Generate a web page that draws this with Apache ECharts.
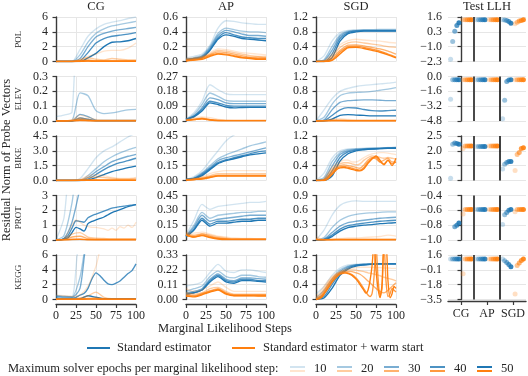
<!DOCTYPE html>
<html>
<head>
<meta charset="utf-8">
<script src="https://cdn.jsdelivr.net/npm/echarts@6/dist/echarts.min.js"></script>
<style>
  html, body { margin: 0; padding: 0; background: #fff; }
  #chart { width: 528px; height: 376px; }
</style>
</head>
<body>
<div id="chart"></div>
<script>
// ---------- data ----------
const datasets = ['POL', 'ELEV', 'BIKE', 'PROT', 'KEGG'];
const methods = ['CG', 'AP', 'SGD'];
const epochs = [10, 20, 30, 40, 50];
const xTicks = ['0', '25', '50', '75', '100'];

// each series runs over steps 0..100, points evenly spaced; rows = epochs 10..50
const polCgTicks = ['0', '2', '4', '6'];
const polCgBlue = [
  [0, 0, 0, 1.6, 3.4, 4.4, 5.0, 5.3, 5.5, 5.8, 6.0],
  [0, 0, 0, 0.9, 2.6, 3.8, 4.4, 4.8, 5.0, 5.2, 5.4],
  [0, 0, 0, 0.4, 2.0, 3.3, 3.8, 4.1, 4.3, 4.45, 4.6],
  [0, 0, 0, 0.1, 1.2, 2.5, 3.1, 3.4, 3.55, 3.7, 3.9],
  [0, 0, 0, 0, 0.5, 1.1, 2.0, 2.6, 2.65, 2.8, 3.1]
];
const polCgOrange = [
  [0, 0, 0, 0.3, 0.7, 1.0, 1.4, 1.5, 1.5, 1.8, 2.5],
  [0, 0, 0, 0.2, 0.5, 0.3, 0.2, 0.4, 0.3, 0.2, 0.2],
  [0, 0, 0, 0.1, 0.2, 0.1, 0.1, 0.1, 0.1, 0.1, 0.1],
  [0, 0, 0, 0.05, 0.1, 0.05, 0.05, 0.05, 0.05, 0.05, 0.05],
  [0, 0, 0, 0.02, 0.05, 0.03, 0.03, 0.03, 0.03, 0.03, 0.03]
];
const polApTicks = ['0.0', '0.2', '0.4', '0.6'];
const polApBlue = [
  [0.05, 0.07, 0.1, 0.22, 0.45, 0.55, 0.54, 0.52, 0.51, 0.5, 0.5],
  [0.03, 0.05, 0.08, 0.2, 0.38, 0.45, 0.43, 0.41, 0.4, 0.4, 0.39],
  [0.03, 0.04, 0.07, 0.18, 0.35, 0.42, 0.4, 0.37, 0.35, 0.35, 0.34],
  [0.02, 0.04, 0.06, 0.16, 0.32, 0.39, 0.36, 0.33, 0.32, 0.31, 0.31],
  [0.02, 0.03, 0.05, 0.15, 0.3, 0.36, 0.34, 0.31, 0.3, 0.29, 0.28]
];
const polApOrange = [
  [0.04, 0.05, 0.07, 0.12, 0.17, 0.16, 0.14, 0.12, 0.11, 0.1, 0.09],
  [0.03, 0.04, 0.06, 0.1, 0.15, 0.14, 0.12, 0.1, 0.08, 0.07, 0.07],
  [0.02, 0.03, 0.05, 0.09, 0.13, 0.12, 0.1, 0.08, 0.06, 0.06, 0.05],
  [0.01, 0.02, 0.04, 0.08, 0.11, 0.1, 0.08, 0.06, 0.05, 0.04, 0.04],
  [0.01, 0.02, 0.03, 0.07, 0.1, 0.09, 0.07, 0.05, 0.04, 0.03, 0.03]
];
const polSgdTicks = ['0.0', '0.4', '0.8', '1.2'];
const polSgdBlue = [
  [0, 0.15, 0.55, 0.78, 0.84, 0.85, 0.86, 0.86, 0.87, 0.87, 0.87],
  [0, 0.05, 0.4, 0.72, 0.82, 0.84, 0.85, 0.85, 0.85, 0.85, 0.85],
  [0, 0.02, 0.3, 0.68, 0.8, 0.83, 0.84, 0.84, 0.84, 0.84, 0.84],
  [0, 0, 0.2, 0.62, 0.78, 0.82, 0.83, 0.83, 0.83, 0.83, 0.83],
  [0, 0, 0.1, 0.55, 0.75, 0.8, 0.82, 0.82, 0.82, 0.82, 0.82]
];
const polSgdOrange = [
  [0, 0.02, 0.2, 0.45, 0.56, 0.6, 0.58, 0.56, 0.55, 0.52, 0.5],
  [0, 0.01, 0.15, 0.38, 0.5, 0.53, 0.5, 0.47, 0.44, 0.4, 0.38],
  [0, 0, 0.1, 0.3, 0.44, 0.45, 0.42, 0.38, 0.34, 0.28, 0.2],
  [0, 0, 0.05, 0.25, 0.4, 0.41, 0.38, 0.33, 0.28, 0.2, 0.12],
  [0, 0, 0.03, 0.2, 0.37, 0.38, 0.35, 0.3, 0.25, 0.18, 0.1]
];

const elevCgTicks = ['0.0', '0.1', '0.2', '0.3'];
const elevCgBlue = [
  [0.03, 0.04, 0.06, 1.0, 1.0, 1.0, 1.0, 1.0, 1.0, 1.0, 1.0],
  [0, 0, 0.005, 0.19, 0.17, 0.07, 0.05, 0.055, 0.065, 0.075, 0.078],
  [0, 0, 0, 0.045, 0.03, 0.006, 0.004, 0.004, 0.004, 0.004, 0.004],
  [0, 0, 0, 0.02, 0.012, 0.003, 0.003, 0.003, 0.003, 0.003, 0.003],
  [0, 0, 0, 0.008, 0.005, 0.002, 0.002, 0.002, 0.002, 0.002, 0.002]
];
const elevCgOrange = [
  [0, 0, 0.01, 0.04, 0.025, 0.01, 0.008, 0.008, 0.008, 0.008, 0.008],
  [0, 0, 0.005, 0.02, 0.01, 0.004, 0.004, 0.004, 0.004, 0.004, 0.004],
  [0, 0, 0.003, 0.01, 0.005, 0.002, 0.002, 0.002, 0.002, 0.002, 0.002],
  [0, 0, 0.002, 0.005, 0.003, 0.001, 0.001, 0.001, 0.001, 0.001, 0.001],
  [0, 0, 0.001, 0.003, 0.002, 0.001, 0.001, 0.001, 0.001, 0.001, 0.001]
];
const elevApTicks = ['0.00', '0.09', '0.18', '0.27'];
const elevApBlue = [
  [0.01, 0.05, 0.12, 0.22, 0.19, 0.165, 0.16, 0.16, 0.16, 0.16, 0.16],
  [0.01, 0.04, 0.1, 0.17, 0.15, 0.125, 0.12, 0.12, 0.12, 0.12, 0.12],
  [0.01, 0.03, 0.08, 0.14, 0.13, 0.11, 0.105, 0.105, 0.105, 0.105, 0.105],
  [0.01, 0.03, 0.07, 0.12, 0.11, 0.095, 0.09, 0.09, 0.09, 0.09, 0.09],
  [0.01, 0.025, 0.06, 0.11, 0.1, 0.085, 0.08, 0.082, 0.083, 0.083, 0.083]
];
const elevApOrange = [
  [0.01, 0.02, 0.025, 0.02, 0.01, 0.006, 0.005, 0.005, 0.005, 0.005, 0.005],
  [0.006, 0.012, 0.018, 0.01, 0.004, 0.003, 0.003, 0.003, 0.003, 0.003, 0.003],
  [0.005, 0.01, 0.015, 0.008, 0.003, 0.002, 0.002, 0.002, 0.002, 0.002, 0.002],
  [0.004, 0.009, 0.014, 0.007, 0.003, 0.002, 0.002, 0.002, 0.002, 0.002, 0.002],
  [0.004, 0.008, 0.013, 0.006, 0.002, 0.002, 0.002, 0.002, 0.002, 0.002, 0.002]
];
const elevSgdTicks = ['0.0', '0.4', '0.8', '1.2'];
const elevSgdBlue = [
  [0, 0.3, 0.6, 0.8, 0.88, 0.93, 0.96, 0.98, 1.0, 1.02, 1.05],
  [0, 0.1, 0.45, 0.68, 0.75, 0.77, 0.78, 0.8, 0.83, 0.86, 0.9],
  [0, 0.03, 0.3, 0.5, 0.55, 0.56, 0.57, 0.57, 0.56, 0.55, 0.55],
  [0, 0.01, 0.15, 0.3, 0.36, 0.35, 0.31, 0.28, 0.27, 0.28, 0.29],
  [0, 0, 0.05, 0.15, 0.17, 0.16, 0.15, 0.14, 0.14, 0.14, 0.14]
];
const elevSgdOrange = [
  [0, 0.01, 0.05, 0.06, 0.04, 0.03, 0.03, 0.03, 0.03, 0.03, 0.03],
  [0, 0.01, 0.03, 0.03, 0.02, 0.015, 0.015, 0.015, 0.015, 0.015, 0.015],
  [0, 0.005, 0.015, 0.015, 0.01, 0.01, 0.01, 0.01, 0.01, 0.01, 0.01],
  [0, 0.003, 0.01, 0.01, 0.008, 0.008, 0.008, 0.008, 0.008, 0.008, 0.008],
  [0, 0.002, 0.008, 0.008, 0.006, 0.006, 0.006, 0.006, 0.006, 0.006, 0.006]
];

const bikeCgTicks = ['0.0', '1.5', '3.0', '4.5'];
const bikeCgBlue = [
  [0, 0, 0, 0.2, 1.2, 2.3, 3.0, 3.4, 3.9, 4.4, 4.8],
  [0, 0, 0, 0, 0.5, 1.2, 1.9, 2.4, 2.8, 3.1, 3.35],
  [0, 0, 0, 0, 0.3, 0.9, 1.4, 1.9, 2.2, 2.45, 2.65],
  [0, 0, 0, 0, 0.15, 0.6, 1.1, 1.5, 1.8, 2.0, 2.25],
  [0, 0, 0, 0, 0.05, 0.3, 0.6, 0.9, 1.1, 1.3, 1.45]
];
const bikeCgOrange = [
  [0, 0, 0, 0.1, 0.5, 0.6, 0.5, 0.3, 0.2, 0.2, 0.3],
  [0, 0, 0, 0.05, 0.3, 0.35, 0.3, 0.2, 0.15, 0.15, 0.2],
  [0, 0, 0, 0.02, 0.08, 0.08, 0.06, 0.05, 0.05, 0.05, 0.05],
  [0, 0, 0, 0.01, 0.04, 0.04, 0.03, 0.03, 0.03, 0.03, 0.03],
  [0, 0, 0, 0.01, 0.02, 0.02, 0.02, 0.02, 0.02, 0.02, 0.02]
];
const bikeApTicks = ['0.00', '0.15', '0.30', '0.45'];
const bikeApBlue = [
  [0.01, 0.04, 0.1, 0.2, 0.3, 0.4, 0.46, 0.5, 0.52, 0.54, 0.56],
  [0.01, 0.03, 0.08, 0.15, 0.22, 0.26, 0.29, 0.32, 0.35, 0.37, 0.39],
  [0.01, 0.02, 0.07, 0.13, 0.2, 0.23, 0.25, 0.27, 0.29, 0.31, 0.33],
  [0.01, 0.02, 0.06, 0.12, 0.18, 0.21, 0.23, 0.25, 0.27, 0.29, 0.3],
  [0.01, 0.02, 0.05, 0.11, 0.17, 0.2, 0.22, 0.24, 0.26, 0.27, 0.28]
];
const bikeApOrange = [
  [0.01, 0.02, 0.04, 0.07, 0.09, 0.1, 0.1, 0.1, 0.1, 0.1, 0.1],
  [0.01, 0.015, 0.03, 0.05, 0.07, 0.07, 0.07, 0.07, 0.07, 0.07, 0.07],
  [0.005, 0.01, 0.02, 0.04, 0.055, 0.055, 0.055, 0.055, 0.055, 0.055, 0.055],
  [0.005, 0.01, 0.02, 0.035, 0.05, 0.05, 0.05, 0.05, 0.05, 0.05, 0.05],
  [0.005, 0.01, 0.015, 0.03, 0.045, 0.045, 0.045, 0.045, 0.045, 0.045, 0.045]
];
const bikeSgdTicks = ['0.0', '0.4', '0.8', '1.2'];
const bikeSgdBlue = [
  [0, 0.2, 0.6, 0.8, 0.85, 0.86, 0.87, 0.88, 0.88, 0.89, 0.9],
  [0, 0.08, 0.5, 0.75, 0.83, 0.85, 0.86, 0.87, 0.87, 0.88, 0.89],
  [0, 0.03, 0.38, 0.7, 0.8, 0.84, 0.85, 0.86, 0.87, 0.88, 0.88],
  [0, 0.01, 0.25, 0.62, 0.77, 0.82, 0.84, 0.85, 0.86, 0.87, 0.88],
  [0, 0, 0.12, 0.52, 0.72, 0.8, 0.83, 0.85, 0.86, 0.87, 0.87]
];
const bikeSgdOrange = [
  [0, 0, 0.05, 0.2, 0.35, 0.45, 0.5, 0.55, 0.55, 0.5, 0.5, 0.55, 0.62, 0.68, 0.72, 0.74, 0.75, 0.75, 0.74, 0.72, 0.7],
  [0, 0, 0.03, 0.15, 0.3, 0.4, 0.45, 0.48, 0.48, 0.45, 0.42, 0.45, 0.55, 0.62, 0.66, 0.65, 0.62, 0.6, 0.62, 0.6, 0.58],
  [0, 0, 0.02, 0.1, 0.25, 0.35, 0.4, 0.42, 0.4, 0.38, 0.35, 0.33, 0.42, 0.55, 0.62, 0.58, 0.5, 0.55, 0.6, 0.5, 0.5],
  [0, 0, 0.01, 0.07, 0.2, 0.32, 0.37, 0.38, 0.36, 0.33, 0.3, 0.28, 0.35, 0.5, 0.6, 0.62, 0.5, 0.45, 0.55, 0.45, 0.5],
  [0, 0, 0, 0.05, 0.16, 0.28, 0.34, 0.35, 0.33, 0.3, 0.27, 0.26, 0.32, 0.46, 0.58, 0.66, 0.55, 0.42, 0.55, 0.4, 0.6]
];

const protCgTicks = ['0', '1', '2', '3'];
const protCgBlue = [
  [0, 1.5, 6, 6, 6, 6, 6, 6, 6, 6, 6],
  [0, 0.3, 2.5, 6, 6, 6, 6, 6, 6, 6, 6],
  [0, 0.1, 1.2, 3.5, 6, 6, 6, 6, 6, 6, 6],
  [0, 0, 0.1, 0.3, 0.8, 1.3, 1.25, 1.2, 1.5, 1.65, 1.75, 1.85, 1.95, 2.05, 2.15, 2.2, 2.25, 2.28, 2.32, 2.35, 2.38],
  [0, 0, 0.05, 0.15, 0.5, 0.85, 0.75, 0.6, 1.1, 1.25, 1.35, 1.45, 1.55, 1.7, 1.85, 1.95, 2.05, 2.15, 2.25, 2.32, 2.38]
];
const protCgOrange = [
  [0, 0, 0.1, 0.5, 1.0, 1.35, 1.2, 1.0, 0.9, 0.85, 0.85, 0.8, 0.75, 0.65, 0.8, 0.65, 0.9, 0.8, 1.0, 0.85, 1.2],
  [0, 0.05, 0.4, 0.5, 0.2, 0.12, 0.1, 0.08, 0.08, 0.08, 0.08],
  [0, 0.02, 0.2, 0.25, 0.1, 0.05, 0.05, 0.05, 0.05, 0.05, 0.05],
  [0, 0.01, 0.05, 0.06, 0.03, 0.02, 0.02, 0.02, 0.02, 0.02, 0.02],
  [0, 0.01, 0.03, 0.04, 0.02, 0.02, 0.02, 0.02, 0.02, 0.02, 0.02]
];
const protApTicks = ['0.00', '0.15', '0.30', '0.45'];
const protApBlue = [
  [0.05, 0.2, 0.36, 0.31, 0.34, 0.35, 0.36, 0.37, 0.38, 0.38, 0.39],
  [0.04, 0.15, 0.28, 0.22, 0.25, 0.26, 0.27, 0.28, 0.28, 0.29, 0.29],
  [0.04, 0.13, 0.25, 0.19, 0.21, 0.22, 0.23, 0.24, 0.25, 0.25, 0.25],
  [0.04, 0.11, 0.22, 0.16, 0.19, 0.19, 0.2, 0.21, 0.21, 0.22, 0.22],
  [0.03, 0.1, 0.2, 0.14, 0.17, 0.17, 0.18, 0.19, 0.19, 0.2, 0.2]
];
const protApOrange = [
  [0.08, 0.07, 0.08, 0.06, 0.04, 0.03, 0.02, 0.015, 0.015, 0.01, 0.01],
  [0.07, 0.05, 0.065, 0.05, 0.03, 0.02, 0.01, 0.01, 0.01, 0.01, 0.01],
  [0.06, 0.04, 0.06, 0.04, 0.02, 0.01, 0.008, 0.008, 0.008, 0.008, 0.008],
  [0.05, 0.03, 0.05, 0.03, 0.015, 0.01, 0.006, 0.006, 0.006, 0.006, 0.006],
  [0.05, 0.03, 0.045, 0.025, 0.01, 0.005, 0.005, 0.005, 0.005, 0.005, 0.005]
];
const protSgdTicks = ['0.0', '0.3', '0.6', '0.9'];
const protSgdBlue = [
  [0, 0.2, 0.5, 0.7, 0.77, 0.79, 0.78, 0.78, 0.78, 0.78, 0.78],
  [0, 0.05, 0.25, 0.4, 0.48, 0.52, 0.54, 0.55, 0.56, 0.57, 0.57],
  [0, 0.02, 0.15, 0.28, 0.35, 0.38, 0.4, 0.42, 0.44, 0.45, 0.46],
  [0, 0.01, 0.1, 0.22, 0.29, 0.32, 0.34, 0.36, 0.38, 0.39, 0.4],
  [0, 0, 0.07, 0.18, 0.25, 0.28, 0.3, 0.31, 0.33, 0.34, 0.35]
];
const protSgdOrange = [
  [0.07, 0.01, 0.02, 0.03, 0.04, 0.04, 0.05, 0.06, 0.07, 0.1, 0.08],
  [0.02, 0.01, 0.01, 0.015, 0.015, 0.015, 0.015, 0.015, 0.015, 0.015, 0.015],
  [0.01, 0.005, 0.008, 0.01, 0.01, 0.01, 0.01, 0.01, 0.01, 0.01, 0.01],
  [0.01, 0.004, 0.006, 0.008, 0.008, 0.008, 0.008, 0.008, 0.008, 0.008, 0.008],
  [0.01, 0.003, 0.005, 0.006, 0.006, 0.006, 0.006, 0.006, 0.006, 0.006, 0.006]
];

const keggCgTicks = ['0', '2', '4', '6'];
const keggCgBlue = [
  [0.6, 0.45, 0.4, 8, 8, 8, 8, 8, 8, 8, 8],
  [0.5, 0.4, 0.35, 3, 8, 8, 8, 8, 8, 8, 8],
  [0.4, 0.3, 0.3, 1.5, 8, 8, 8, 8, 8, 8, 8],
  [0.2, 0.15, 0.1, 0.1, 0.15, 0.3, 0.6, 0.8, 1.5, 2.8, 3.6, 3.2, 2.6, 2.1, 2.0, 2.2, 2.5, 3.0, 3.5, 3.9, 4.8],
  [0.05, 0.05, 0.05, 0.1, 0.5, 0.3, 0.1, 0.1, 0.1, 0.1, 0.1]
];
const keggCgOrange = [
  [0.6, 0.5, 0.4, 0.6, 1.8, 4.5, 8, 8, 8, 8, 8],
  [0.1, 0.1, 0.1, 0.2, 0.5, 1.0, 0.3, 0.1, 0.1, 0.1, 0.1],
  [0.05, 0.05, 0.05, 0.08, 0.15, 0.2, 0.08, 0.05, 0.05, 0.05, 0.05],
  [0.03, 0.03, 0.03, 0.05, 0.08, 0.08, 0.05, 0.03, 0.03, 0.03, 0.03],
  [0.02, 0.02, 0.02, 0.03, 0.05, 0.05, 0.03, 0.02, 0.02, 0.02, 0.02]
];
const keggApTicks = ['0.00', '0.11', '0.22', '0.33'];
const keggApBlue = [
  [0.1, 0.11, 0.13, 0.2, 0.26, 0.21, 0.2, 0.22, 0.22, 0.21, 0.2],
  [0.06, 0.08, 0.1, 0.17, 0.21, 0.17, 0.16, 0.18, 0.18, 0.17, 0.165],
  [0.05, 0.06, 0.08, 0.15, 0.19, 0.15, 0.14, 0.16, 0.16, 0.155, 0.15],
  [0.04, 0.05, 0.07, 0.14, 0.18, 0.14, 0.13, 0.15, 0.15, 0.14, 0.14],
  [0.04, 0.05, 0.07, 0.13, 0.17, 0.13, 0.12, 0.14, 0.14, 0.135, 0.13]
];
const keggApOrange = [
  [0.08, 0.06, 0.07, 0.1, 0.13, 0.09, 0.06, 0.06, 0.06, 0.06, 0.06],
  [0.05, 0.04, 0.05, 0.08, 0.09, 0.06, 0.04, 0.04, 0.04, 0.04, 0.04],
  [0.04, 0.03, 0.045, 0.065, 0.08, 0.05, 0.035, 0.035, 0.035, 0.035, 0.035],
  [0.03, 0.025, 0.04, 0.06, 0.075, 0.045, 0.03, 0.03, 0.03, 0.03, 0.03],
  [0.025, 0.02, 0.035, 0.055, 0.07, 0.04, 0.028, 0.028, 0.028, 0.026, 0.026]
];
const keggSgdTicks = ['0.0', '0.4', '0.8', '1.2'];
const keggSgdBlue = [
  [0.15, 0.35, 0.65, 0.85, 0.93, 0.95, 0.96, 0.96, 0.96, 0.96, 0.96],
  [0.05, 0.25, 0.55, 0.8, 0.9, 0.94, 0.95, 0.96, 0.96, 0.96, 0.96],
  [0.02, 0.15, 0.48, 0.75, 0.88, 0.93, 0.95, 0.96, 0.96, 0.96, 0.96],
  [0, 0.08, 0.4, 0.7, 0.85, 0.92, 0.94, 0.95, 0.96, 0.96, 0.96],
  [0, 0.04, 0.3, 0.65, 0.82, 0.9, 0.93, 0.95, 0.96, 0.96, 0.96]
];
const keggSgdOrange = [
  [0.1, 0.2, 0.35, 0.5, 0.62, 0.7, 0.76, 0.8, 0.83, 0.85, 0.86, 0.87, 0.87, 0.87, 0.87, 0.86, 0.86, 0.85, 0.85, 0.84, 0.84],
  [0.05, 0.12, 0.28, 0.45, 0.58, 0.68, 0.74, 0.78, 0.8, 0.8, 0.79, 0.77, 0.75, 0.72, 0.7, 0.67, 0.64, 0.6, 0.57, 0.54, 0.5],
  [0.02, 0.08, 0.22, 0.4, 0.55, 0.65, 0.72, 0.75, 0.76, 0.75, 0.72, 0.68, 0.6, 0.5, 0.4, 0.3, 0.22, 0.18, 0.25, 0.35, 0.45],
  [0, 0.02, 0.05, 0.1, 0.18, 0.26, 0.35, 0.43, 0.5, 0.57, 0.62, 0.66, 0.7, 0.72, 0.73, 0.73, 0.72, 0.7, 0.67, 0.63, 0.58,
   0.52, 0.45, 0.37, 0.28, 0.2, 0.12, 0.08, 0.15, 0.6, 1.5, 0.6, 0.1, 0.3, 1.5, 0.5, 0.08, 0.15, 0.3, 0.25, 0.2],
  [0, 0.01, 0.03, 0.07, 0.14, 0.22, 0.3, 0.38, 0.46, 0.53, 0.59, 0.64, 0.68, 0.7, 0.71, 0.71, 0.7, 0.68, 0.65, 0.6, 0.55,
   0.48, 0.4, 0.32, 0.24, 0.17, 0.25, 0.5, 0.9, 1.5, 0.8, 0.3, 0.05, 0.4, 1.5, 1.5, 0.5, 0.05, 0.15, 0.35, 0.3]
];

// Test LLH: per method (CG, AP, SGD), values for epochs 10..50
const polLlhTicks = ['\u22122.3', '\u22121.0', '0.3', '1.6'];
const polLlhBlue = [[-2.1, -0.55, 0.35, 0.85, 1.1], [1.35, 1.35, 1.35, 1.35, 1.35], [1.35, 1.33, 1.3, 1.2, 1.05]];
const polLlhOrange = [[1.35, 1.35, 1.35, 1.35, 1.35], [1.35, 1.35, 1.35, 1.35, 1.35], [1.0, 1.15, 1.25, 1.3, 1.35]];
const elevLlhTicks = ['\u22124.8', '\u22123.2', '\u22121.6', '0.0'];
const elevLlhBlue = [[-2.45, -0.36, -0.36, -0.36, -0.36], [-0.36, -0.36, -0.36, -0.36, -0.36], [-4.55, -2.55, -0.55, -0.38, -0.36]];
const elevLlhOrange = [[-0.36, -0.36, -0.36, -0.36, -0.36], [-0.36, -0.36, -0.36, -0.36, -0.36], [-0.36, -0.36, -0.36, -0.36, -0.36]];
const bikeLlhTicks = ['1.0', '1.5', '2.0', '2.5'];
const bikeLlhBlue = [[1.08, 2.22, 2.26, 2.25, 2.22], [2.15, 2.15, 2.15, 2.15, 2.15], [1.39, 1.55, 1.61, 1.64, 1.64]];
const bikeLlhOrange = [[2.08, 2.16, 2.16, 2.16, 2.16], [2.16, 2.16, 2.16, 2.16, 2.16], [1.34, 1.88, 1.94, 2.08, 2.1]];
const protLlhTicks = ['\u22121.0', '\u22120.8', '\u22120.6', '\u22120.4'];
const protLlhBlue = [[null, null, -0.82, -0.8, -0.77], [-0.59, -0.59, -0.59, -0.59, -0.59], [-0.79, -0.66, -0.63, -0.6, -0.59]];
const protLlhOrange = [[-0.65, -0.59, -0.59, -0.59, -0.59], [-0.59, -0.59, -0.59, -0.59, -0.59], [-0.62, -0.59, -0.59, -0.59, -0.59]];
const keggLlhTicks = ['\u22123.5', '\u22121.8', '\u22120.1', '1.6'];
const keggLlhBlue = [[1.15, 1.15, 1.15, 1.15, 1.15], [1.15, 1.15, 1.15, 1.15, 1.15], [1.15, 0.95, 0.75, 0.5, 0.25]];
const keggLlhOrange = [[-0.55, 1.15, 1.15, 1.15, 1.15], [1.15, 1.15, 1.15, 1.15, 1.15], [-2.86, 0.4, 0.67, 0.97, 1.15]];

// ---------- layout / style ----------
const BLUE = '#1f77b4', ORANGE = '#ff7f0e';
const FONT = '"Liberation Serif", "DejaVu Serif", serif';
const INK = '#262626', SPINE = '#3a3a3a', GRID = '#e6e6e6';
const lineAlpha = [0.2, 0.4, 0.6, 0.8, 1.0];
const dotAlpha = [0.25, 0.45, 0.6, 0.75, 0.9];
const blueOffset = [-0.4, -0.32, -0.24, -0.16, -0.08];
const orangeOffset = [0.08, 0.16, 0.24, 0.32, 0.4];
const colLeft = [56, 186, 316, 448];
const colWidth = [80, 80, 80, 78];
const rowTop = i => 17 + i * 59.5;
const rowHeight = 44.5;

const linePanels = [
  [polCgTicks, polCgBlue, polCgOrange], [polApTicks, polApBlue, polApOrange], [polSgdTicks, polSgdBlue, polSgdOrange],
  [elevCgTicks, elevCgBlue, elevCgOrange], [elevApTicks, elevApBlue, elevApOrange], [elevSgdTicks, elevSgdBlue, elevSgdOrange],
  [bikeCgTicks, bikeCgBlue, bikeCgOrange], [bikeApTicks, bikeApBlue, bikeApOrange], [bikeSgdTicks, bikeSgdBlue, bikeSgdOrange],
  [protCgTicks, protCgBlue, protCgOrange], [protApTicks, protApBlue, protApOrange], [protSgdTicks, protSgdBlue, protSgdOrange],
  [keggCgTicks, keggCgBlue, keggCgOrange], [keggApTicks, keggApBlue, keggApOrange], [keggSgdTicks, keggSgdBlue, keggSgdOrange]
];
const llhPanels = [
  [polLlhTicks, polLlhBlue, polLlhOrange], [elevLlhTicks, elevLlhBlue, elevLlhOrange],
  [bikeLlhTicks, bikeLlhBlue, bikeLlhOrange], [protLlhTicks, protLlhBlue, protLlhOrange],
  [keggLlhTicks, keggLlhBlue, keggLlhOrange]
];

const toNum = s => Number(String(s).replace('\u2212', '-'));

function makeYAxis(gi, ticks, offset) {
  const vals = ticks.map(toNum);
  return {
    type: 'value', gridIndex: gi, min: vals[0], max: vals[vals.length - 1], offset: offset,
    axisLine: { show: true, lineStyle: { color: SPINE, width: 1.4 } },
    axisTick: { show: true, length: 3.5, customValues: vals, lineStyle: { color: SPINE, width: 1.2 } },
    axisLabel: {
      customValues: vals, margin: 4, color: INK, fontFamily: FONT, fontSize: 12,
      formatter: v => {
        let best = ticks[0], d = Infinity;
        ticks.forEach(t => { const dd = Math.abs(toNum(t) - v); if (dd < d) { d = dd; best = t; } });
        return best;
      }
    },
    splitLine: { show: true, lineStyle: { color: GRID, width: 1 } }
  };
}

const grids = [], xAxes = [], yAxes = [], series = [];

linePanels.forEach((p, i) => {
  const row = Math.floor(i / 3), col = i % 3;
  const gi = grids.length;
  const bottom = row === datasets.length - 1;
  grids.push({ left: colLeft[col], top: rowTop(row), width: colWidth[col], height: rowHeight });
  const xi = xAxes.length;
  xAxes.push({
    type: 'value', gridIndex: gi, min: 0, max: 100, interval: 25, offset: bottom ? 5 : 0,
    axisLine: { show: bottom, onZero: false, lineStyle: { color: SPINE, width: 1.4 } },
    axisTick: { show: bottom, length: 3.5, lineStyle: { color: SPINE, width: 1.2 } },
    axisLabel: { show: bottom, margin: 5, color: INK, fontFamily: FONT, fontSize: 12,
      formatter: v => xTicks[Math.round(v / 25)] },
    splitLine: { show: true, lineStyle: { color: GRID, width: 1 } }
  });
  const yi = yAxes.length;
  yAxes.push(makeYAxis(gi, p[0], 4));
  [[p[1], BLUE], [p[2], ORANGE]].forEach(([set, color]) => {
    set.forEach((vals, j) => {
      const step = 100 / (vals.length - 1);
      series.push({
        type: 'line', xAxisIndex: xi, yAxisIndex: yi, silent: true,
        showSymbol: false, smooth: 0.25, clip: true,
        lineStyle: { color: color, width: 1.35, opacity: lineAlpha[j] },
        data: vals.map((v, k) => [k * step, v])
      });
    });
  });
});

llhPanels.forEach((p, row) => {
  const gi = grids.length;
  const bottom = row === datasets.length - 1;
  grids.push({ left: colLeft[3], top: rowTop(row), width: colWidth[3], height: rowHeight });
  const xi = xAxes.length;
  xAxes.push({ type: 'value', gridIndex: gi, min: -0.5, max: 2.5, show: false });
  if (bottom) {
    xAxes.push({
      type: 'category', gridIndex: gi, data: methods, boundaryGap: true, offset: 2, position: 'bottom',
      axisLine: { show: true, onZero: false, lineStyle: { color: SPINE, width: 1.4 } },
      axisTick: { show: true, alignWithLabel: true, interval: 0, length: 3.5, lineStyle: { color: SPINE, width: 1.2 } },
      axisLabel: { interval: 0, margin: 6, color: INK, fontFamily: FONT, fontSize: 12 },
      splitLine: { show: false }
    });
  }
  const yi = yAxes.length;
  yAxes.push(makeYAxis(gi, p[0], 2));
  [[p[1], BLUE, blueOffset], [p[2], ORANGE, orangeOffset]].forEach(([set, color, offs], si) => {
    epochs.forEach((e, j) => {
      const pts = [];
      set.forEach((vals, m) => { if (vals[j] != null) pts.push([m + offs[j], vals[j]]); });
      const s = {
        type: 'scatter', xAxisIndex: xi, yAxisIndex: yi, silent: true, symbolSize: 5, clip: true,
        itemStyle: { color: color, opacity: dotAlpha[j] },
        data: pts
      };
      if (si === 0 && j === 0) {
        s.markLine = {
          silent: true, symbol: ['none', 'none'], label: { show: false },
          data: [
            { xAxis: 0.5, lineStyle: { color: '#4a4a4a', width: 2, type: 'solid' } },
            { xAxis: 1.5, lineStyle: { color: '#111', width: 1.6, type: 'solid' } }
          ]
        };
      }
      series.push(s);
    });
  });
});

// ---------- texts and legend ----------
const txt = (x, y, text, size, rot) => ({
  type: 'text', x: x, y: y, rotation: rot || 0, silent: true,
  style: { text: text, fill: INK, font: size + 'px ' + FONT, align: 'center', verticalAlign: 'middle' }
});
const graphic = [];
methods.concat(['Test LLH']).forEach((m, c) => graphic.push(txt(colLeft[c] + colWidth[c] / 2, 7, m, 12.5)));
datasets.forEach((d, r) => graphic.push(txt(19, rowTop(r) + rowHeight / 2, d, 9, Math.PI / 2)));
graphic.push(txt(7, 160, 'Residual Norm of Probe Vectors', 12.5, Math.PI / 2));
graphic.push(txt(225, 329, 'Marginal Likelihood Steps', 12.5));

const seg = (x1, x2, y, color, opacity) => ({
  type: 'line', silent: true, shape: { x1: x1, y1: y, x2: x2, y2: y },
  style: { stroke: color, lineWidth: 2, opacity: opacity }
});
const ltxt = (x, y, text) => ({
  type: 'text', x: x, y: y, silent: true,
  style: { text: text, fill: INK, font: '12.5px ' + FONT, align: 'left', verticalAlign: 'middle' }
});
graphic.push(seg(87, 110, 348, BLUE, 1), ltxt(117, 348, 'Standard estimator'));
graphic.push(seg(232, 255, 348, ORANGE, 1), ltxt(263, 348, 'Standard estimator + warm start'));
graphic.push(ltxt(8, 369, 'Maximum solver epochs per marginal likelihood step:'));
const legX = [290, 337, 384, 430, 477];
epochs.forEach((e, j) => {
  graphic.push(seg(legX[j], legX[j] + 15, 367, BLUE, lineAlpha[j]));
  graphic.push(seg(legX[j], legX[j] + 15, 371, ORANGE, lineAlpha[j]));
  graphic.push(ltxt(legX[j] + 24, 369, String(e)));
});

const chart = echarts.init(document.getElementById('chart'));
chart.setOption({
  animation: false,
  backgroundColor: '#fff',
  grid: grids,
  xAxis: xAxes,
  yAxis: yAxes,
  series: series,
  graphic: graphic
});
</script>
</body>
</html>
